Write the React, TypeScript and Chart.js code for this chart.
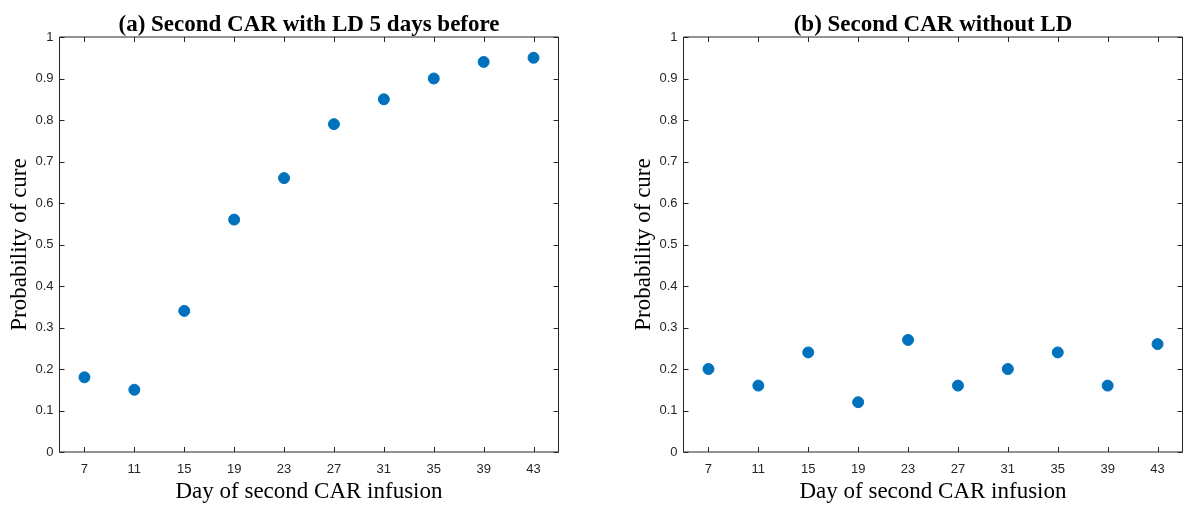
import React, { useEffect, useRef } from "react";
import { Chart, registerables } from "chart.js";

Chart.register(...registerables);

const days = [7, 11, 15, 19, 23, 27, 31, 35, 39, 43];
const cureWithLD = [0.18, 0.15, 0.34, 0.56, 0.66, 0.79, 0.85, 0.9, 0.94, 0.95];
const cureWithoutLD = [0.2, 0.16, 0.24, 0.12, 0.27, 0.16, 0.2, 0.24, 0.16, 0.26];
const titleA = "(a) Second CAR with LD 5 days before";
const titleB = "(b) Second CAR without LD";
const xTitle = "Day of second CAR infusion";
const yTitle = "Probability of cure";

const AXIS = "#262626";
const DOT = "#0072BD";

const boxTicks = {
  id: "boxTicks",
  afterDatasetsDraw(chart: any) {
    const { ctx, chartArea } = chart;
    const { left, right, top, bottom } = chartArea;
    const xs = chart.scales.x;
    const ys = chart.scales.y;
    const L = 5;
    ctx.save();
    ctx.strokeStyle = AXIS;
    ctx.lineWidth = 1;
    ctx.beginPath();
    ctx.rect(left, top, right - left, bottom - top);
    ctx.stroke();
    ctx.beginPath();
    xs.ticks.forEach((t: any) => {
      const px = Math.round(xs.getPixelForValue(t.value)) + 0.5;
      ctx.moveTo(px, bottom);
      ctx.lineTo(px, bottom - L);
      ctx.moveTo(px, top);
      ctx.lineTo(px, top + L);
    });
    ys.ticks.forEach((t: any) => {
      const py = Math.round(ys.getPixelForValue(t.value)) + 0.5;
      ctx.moveTo(left, py);
      ctx.lineTo(left + L, py);
      ctx.moveTo(right, py);
      ctx.lineTo(right - L, py);
    });
    ctx.stroke();
    ctx.restore();
  },
};

function makeConfig(values: number[], title: string, yWidth: number, rightPad: number): any {
  return {
    type: "scatter",
    data: {
      datasets: [
        {
          data: days.map((d, i) => ({ x: d, y: values[i] })),
          backgroundColor: DOT,
          borderColor: DOT,
          borderWidth: 1,
          pointRadius: 5.5,
          pointHoverRadius: 5.5,
        },
      ],
    },
    options: {
      responsive: false,
      animation: false,
      layout: { padding: { left: 0, right: rightPad, top: 0, bottom: 0 } },
      plugins: {
        legend: { display: false },
        tooltip: { enabled: false },
        title: {
          display: true,
          text: title,
          fullSize: false,
          color: "#000",
          font: { family: "Liberation Serif", size: 23, weight: "bold", lineHeight: 1.0 },
          padding: { top: 14, bottom: 0 },
        },
      },
      scales: {
        x: {
          type: "linear",
          min: 5,
          max: 45,
          afterBuildTicks: (s: any) => {
            s.ticks = days.map((v) => ({ value: v }));
          },
          afterFit: (s: any) => {
            s.height = 56;
          },
          grid: { display: false, drawTicks: false },
          border: { display: false },
          ticks: {
            color: AXIS,
            font: { family: "Liberation Sans", size: 13 },
            padding: 10,
            maxRotation: 0,
            autoSkip: false,
          },
          title: {
            display: true,
            text: xTitle,
            color: "#000",
            font: { family: "Liberation Serif", size: 23, lineHeight: 1.2 },
            padding: { top: 0, bottom: 2 },
          },
        },
        y: {
          type: "linear",
          min: 0,
          max: 1,
          afterFit: (s: any) => {
            s.width = yWidth;
          },
          grid: { display: false, drawTicks: false },
          border: { display: false },
          ticks: {
            stepSize: 0.1,
            color: AXIS,
            font: { family: "Liberation Sans", size: 13 },
            padding: 6,
            callback: (v: any) => String(Number(Number(v).toFixed(1))),
          },
          title: {
            display: true,
            text: yTitle,
            color: "#000",
            font: { family: "Liberation Serif", size: 23, lineHeight: 1.2 },
            padding: { top: 6.4 + (yWidth - 59.5), bottom: 0 },
          },
        },
      },
    },
    plugins: [boxTicks],
  };
}

function Panel({ values, title, left, width, yWidth, rightPad }: any) {
  const ref = useRef<HTMLCanvasElement>(null);
  useEffect(() => {
    if (!ref.current) return;
    const chart = new Chart(ref.current, makeConfig(values, title, yWidth, rightPad));
    return () => chart.destroy();
  }, []);
  return (
    <canvas
      ref={ref}
      width={width}
      height={508}
      style={{ position: "absolute", left, top: 0, width, height: 508 }}
    />
  );
}

export default function App() {
  return (
    <div
      style={{
        position: "fixed",
        left: 0,
        top: 0,
        width: 1184,
        height: 508,
        overflow: "hidden",
        background: "#fff",
      }}
    >
      <Panel values={cureWithLD} title={titleA} left={0} width={600} yWidth={59.5} rightPad={41.5} />
      <Panel values={cureWithoutLD} title={titleB} left={600} width={600} yWidth={83.5} rightPad={17.5} />
    </div>
  );
}
